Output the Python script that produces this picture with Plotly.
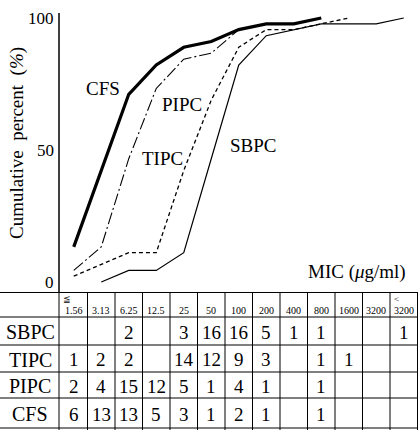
import plotly.graph_objects as go

# ---- data ----
mic_labels = ["1.56", "3.13", "6.25", "12.5", "25", "50", "100", "200",
              "400", "800", "1600", "3200", "3200"]
mic_marks = ["≦", "", "", "", "", "", "", "", "", "", "", "", "<"]
drugs = ["SBPC", "TIPC", "PIPC", "CFS"]

# counts per MIC column (table)
counts_sbpc = [None, None, 2, None, 3, 16, 16, 5, 1, 1, None, None, 1]
counts_tipc = [1, 2, 2, None, 14, 12, 9, 3, None, 1, 1, None, None]
counts_pipc = [2, 4, 15, 12, 5, 1, 4, 1, None, 1, None, None, None]
counts_cfs = [6, 13, 13, 5, 3, 1, 2, 1, None, 1, None, None, None]

# cumulative percent curves, with starting column index
cum_sbpc = [0, 4.4, 4.4, 11.1, 46.7, 82.2, 93.3, 95.6, 97.8, 97.8, 97.8, 100]
start_sbpc = 1
cum_tipc = [2.2, 6.7, 11.1, 11.1, 42.2, 68.9, 88.9, 95.6, 95.6, 97.8, 100]
start_tipc = 0
cum_pipc = [4.4, 13.3, 46.7, 73.3, 84.4, 86.7, 95.6, 97.8, 97.8, 100]
start_pipc = 0
cum_cfs = [13.3, 42.2, 71.1, 82.2, 88.9, 91.1, 95.6, 97.8, 97.8, 100]
start_cfs = 0

y_ticks = [0, 50, 100]

# ---- geometry (pixels) ----
W, H = 418, 430
COL0 = 60.0          # left edge of first data column
COLW = 27.5          # column width
Y0_PX, Y100_PX = 282.0, 18.0
TABLE_TOP = 292.0
row_lines = [317, 345, 372, 398, 428]

def px_to_idx(p):
    return (p - (COL0 + COLW / 2)) / COLW

pp = (Y0_PX - Y100_PX) / 100.0
y_lo = (Y0_PX - TABLE_TOP) / pp
y_hi = Y0_PX / pp

SERIF = "Liberation Serif"

fig = go.Figure()

def add_curve(vals, start, width, dash):
    xs = [start + i for i in range(len(vals))]
    fig.add_trace(go.Scatter(x=xs, y=vals, mode="lines",
                             line=dict(color="black", width=width, dash=dash),
                             showlegend=False, hoverinfo="skip"))

add_curve(cum_sbpc, start_sbpc, 1.2, "solid")
add_curve(cum_tipc, start_tipc, 1.3, "4px,3px")
add_curve(cum_pipc, start_pipc, 1.1, "12px,3px,2px,3px")
add_curve(cum_cfs, start_cfs, 3.2, "solid")

shapes = []
# y axis line
shapes.append(dict(type="line", xref="x", yref="y",
                   x0=px_to_idx(COL0 - 1), x1=px_to_idx(COL0 - 1),
                   y0=(Y0_PX - 13) / pp, y1=y_lo,
                   line=dict(color="black", width=1.5)))
# table: thick top line
shapes.append(dict(type="line", xref="paper", yref="y2", x0=0, x1=1,
                   y0=TABLE_TOP, y1=TABLE_TOP, line=dict(color="black", width=2)))
for r in row_lines:
    shapes.append(dict(type="line", xref="paper", yref="y2", x0=0, x1=1,
                       y0=r, y1=r, line=dict(color="black", width=1)))
for k in range(len(mic_labels) + 1):
    xk = px_to_idx(COL0 + COLW * k) if k > 0 else px_to_idx(COL0 - 1)
    shapes.append(dict(type="line", xref="x", yref="y2", x0=xk, x1=xk,
                       y0=TABLE_TOP, y1=H, line=dict(color="black", width=1)))

ann = []
# curve labels
def lab(text, xpx, ypx, size=19):
    ann.append(dict(text=text, xref="x", yref="y", x=px_to_idx(xpx),
                    y=(Y0_PX - ypx) / pp, showarrow=False,
                    xanchor="center", yanchor="middle",
                    font=dict(family=SERIF, size=size, color="black")))

lab("CFS", 103, 88)
lab("PIPC", 182, 104)
lab("TIPC", 162, 158)
lab("SBPC", 253, 145)
lab("MIC (<i>μ</i>g/ml)", 357, 272)

# y tick labels
for v in y_ticks:
    ann.append(dict(text=str(v), xref="x", yref="y", x=px_to_idx(COL0 - 4), y=v,
                    xanchor="right", yanchor="middle", showarrow=False,
                    font=dict(family=SERIF, size=17, color="black")))
# y title
ann.append(dict(text="Cumulative  percent  (<i>%</i>)", xref="paper", yref="y",
                x=17 / W, y=(Y0_PX - 143) / pp, textangle=-90, showarrow=False,
                xanchor="center", yanchor="middle",
                font=dict(family=SERIF, size=19, color="black")))

# header
for i, t in enumerate(mic_labels):
    ann.append(dict(text=t, xref="x", yref="y2", x=i, y=310, showarrow=False,
                    xanchor="center", yanchor="middle",
                    font=dict(family=SERIF, size=10, color="black")))
    if mic_marks[i]:
        ann.append(dict(text=mic_marks[i], xref="x", yref="y2", x=i - 0.25, y=299,
                        showarrow=False, xanchor="center", yanchor="middle",
                        font=dict(family=SERIF, size=9, color="black")))

rows = [counts_sbpc, counts_tipc, counts_pipc, counts_cfs]
row_centers = [(row_lines[j] + row_lines[j + 1]) / 2 for j in range(4)]
for j, (name, cnts) in enumerate(zip(drugs, rows)):
    yc = row_centers[j] + 1
    ann.append(dict(text=name, xref="x", yref="y2", x=px_to_idx(30), y=yc,
                    showarrow=False, xanchor="center", yanchor="middle",
                    font=dict(family=SERIF, size=20, color="black")))
    for i, c in enumerate(cnts):
        if c is not None:
            ann.append(dict(text=str(c), xref="x", yref="y2", x=i, y=yc,
                            showarrow=False, xanchor="center", yanchor="middle",
                            font=dict(family=SERIF, size=19, color="black")))

fig.update_layout(
    width=W, height=H,
    margin=dict(l=0, r=0, t=0, b=0),
    paper_bgcolor="white", plot_bgcolor="white",
    xaxis=dict(range=[px_to_idx(0), px_to_idx(W)], domain=[0, 1],
               visible=False, fixedrange=True),
    yaxis=dict(range=[y_lo, y_hi], domain=[1 - TABLE_TOP / H, 1],
               visible=False, fixedrange=True),
    yaxis2=dict(range=[H, TABLE_TOP], domain=[0, 1 - TABLE_TOP / H],
                visible=False, fixedrange=True, anchor="x"),
    shapes=shapes,
    annotations=ann,
)

fig.write_html("out.html")
